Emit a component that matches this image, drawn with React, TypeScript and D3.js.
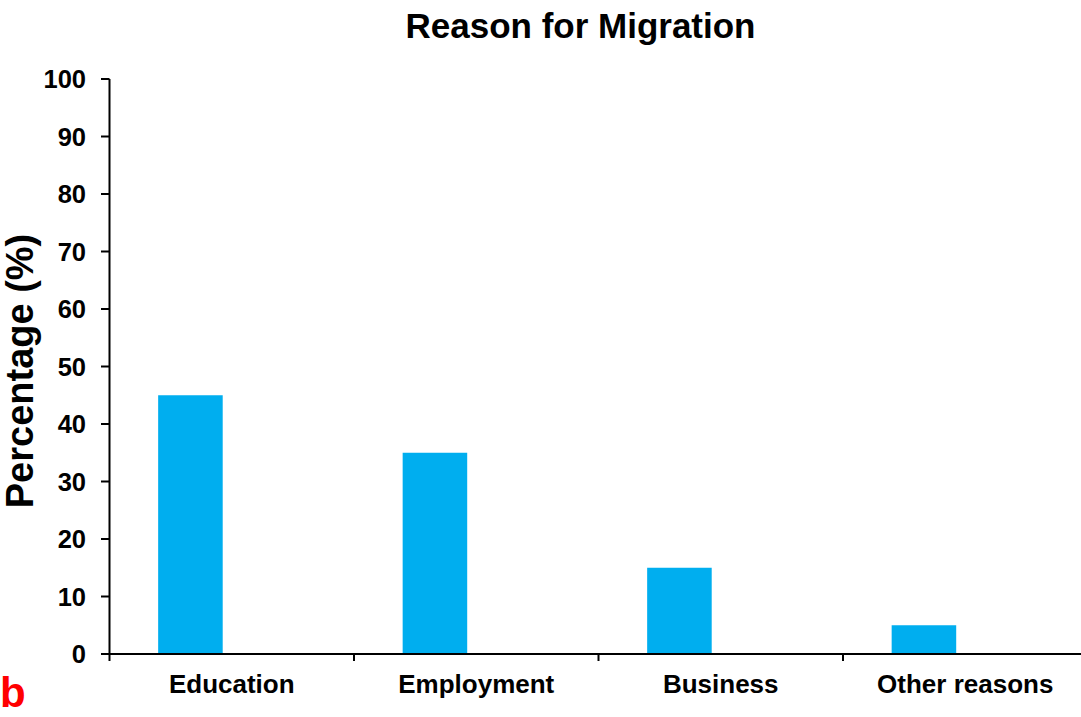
import React from "react";
import * as d3 from "d3";

const categories = ["Education", "Employment", "Business", "Other reasons"];
const values = [45, 35, 15, 5];
const yTicks = [0, 10, 20, 30, 40, 50, 60, 70, 80, 90, 100];

const W = 1081;
const H = 717;
const FONT = "'Liberation Sans', Arial, Helvetica, sans-serif";

export default function App() {
  const x = d3.scaleBand<string>().domain(categories).range([109.5, 1087.5]).padding(0);
  const y = d3.scaleLinear().domain([0, 100]).range([654, 79]);
  const bw = x.bandwidth();
  const boundaries = categories.map((c) => x(c) as number);

  return (
    <svg width={W} height={H} style={{ position: "absolute", left: 0, top: 0, background: "#fff" }}>
      <text x={580.5} y={38} textAnchor="middle" fontFamily={FONT} fontWeight="bold" fontSize={35}>
        Reason for Migration
      </text>

      {categories.map((c, i) => (
        <rect
          key={c}
          x={(x(c) as number) + bw * 0.199}
          y={y(values[i])}
          width={bw * 0.264}
          height={y(0) - y(values[i])}
          fill="#00AEEF"
        />
      ))}

      {/* y axis */}
      <line x1={109.5} x2={109.5} y1={y(100)} y2={y(0)} stroke="#000" strokeWidth={2} />
      {yTicks.map((t) => (
        <g key={t}>
          <line x1={101} x2={109.5} y1={y(t)} y2={y(t)} stroke="#000" strokeWidth={2} />
          <text
            x={86}
            y={y(t)}
            dy="0.36em"
            textAnchor="end"
            fontFamily={FONT}
            fontWeight="bold"
            fontSize={25.5}
          >
            {t}
          </text>
        </g>
      ))}

      {/* x axis */}
      <line x1={108.5} x2={W} y1={y(0)} y2={y(0)} stroke="#000" strokeWidth={2} />
      {boundaries.map((b, i) => (
        <line key={i} x1={b} x2={b} y1={y(0)} y2={y(0) + 7} stroke="#000" strokeWidth={2} />
      ))}
      {categories.map((c) => (
        <text
          key={c}
          x={(x(c) as number) + bw / 2}
          y={693}
          textAnchor="middle"
          fontFamily={FONT}
          fontWeight="bold"
          fontSize={26}
        >
          {c}
        </text>
      ))}

      <text
        transform={`translate(33, 371) rotate(-90)`}
        textAnchor="middle"
        fontFamily={FONT}
        fontWeight="bold"
        fontSize={38}
      >
        Percentage (%)
      </text>

      <text x={0} y={707} fontFamily={FONT} fontWeight="bold" fontSize={42} fill="#FF0000">
        b
      </text>
    </svg>
  );
}
